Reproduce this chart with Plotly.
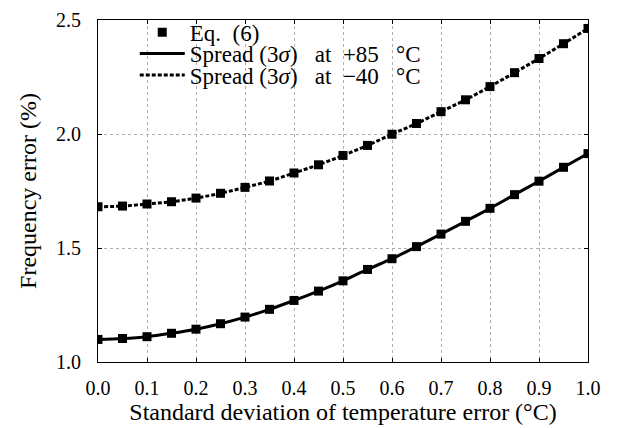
import plotly.graph_objects as go

sigma = [0.0, 0.05, 0.1, 0.15, 0.2, 0.25, 0.3, 0.35, 0.4, 0.45, 0.5,
         0.55, 0.6, 0.65, 0.7, 0.75, 0.8, 0.85, 0.9, 0.95, 1.0]
spread_p85 = [1.099, 1.103, 1.111, 1.126, 1.144, 1.168, 1.197, 1.231, 1.270, 1.311, 1.356,
              1.406, 1.453, 1.506, 1.561, 1.617, 1.674, 1.734, 1.793, 1.854, 1.914]
spread_m40 = [1.681, 1.684, 1.693, 1.703, 1.719, 1.740, 1.766, 1.794, 1.829, 1.865, 1.906,
              1.950, 1.999, 2.046, 2.098, 2.150, 2.208, 2.269, 2.331, 2.396, 2.463]
eq6_p85 = spread_p85
eq6_m40 = spread_m40

x_ticks = [0.0, 0.1, 0.2, 0.3, 0.4, 0.5, 0.6, 0.7, 0.8, 0.9, 1.0]
y_ticks = [1.0, 1.5, 2.0, 2.5]

FONT = "Liberation Serif"
NB = "\u00a0"
name_eq = "Eq." + NB + NB + "(6)"
name_p85 = "Spread" + NB + "(3<i>σ</i>)" + NB * 3 + "at" + NB * 2 + "+85" + NB * 3 + "°C"
name_m40 = "Spread" + NB + "(3<i>σ</i>)" + NB * 3 + "at" + NB * 2 + "−40" + NB * 3 + "°C"

fig = go.Figure()
fig.add_trace(go.Scatter(x=sigma, y=spread_p85, mode="lines", line=dict(color="black", width=3, shape="spline"),
                         name=name_p85, legend="legend2"))
fig.add_trace(go.Scatter(x=sigma, y=spread_m40, mode="lines",
                         line=dict(color="black", width=3, dash="4px,2px", shape="spline"),
                         name=name_m40, legend="legend3"))
fig.add_trace(go.Scatter(x=sigma, y=eq6_p85, mode="markers",
                         marker=dict(symbol="square", size=9, color="black"),
                         name=name_eq, legend="legend"))
fig.add_trace(go.Scatter(x=sigma, y=eq6_m40, mode="markers",
                         marker=dict(symbol="square", size=9, color="black"),
                         name=name_eq, showlegend=False))

axis_common = dict(showline=True, linecolor="black", linewidth=1, mirror="ticks",
                   ticks="inside", ticklen=4, tickcolor="black", automargin=False,
                   showgrid=True, gridcolor="#b0b0b0", griddash="dot", gridwidth=1,
                   zeroline=False, tickfont=dict(family=FONT, size=20, color="black"))

fig.update_xaxes(range=[0, 1], tickvals=x_ticks, ticktext=[f"{v:.1f}" for v in x_ticks],
                 ticklabelstandoff=8,
                 title=dict(text="Standard deviation of temperature error (°C)",
                            font=dict(family=FONT, size=24, color="black"), standoff=4),
                 **axis_common)
fig.update_yaxes(range=[1.0, 2.5], tickvals=y_ticks, ticktext=[f"{v:.1f}" for v in y_ticks],
                 ticklabelstandoff=12,
                 title=dict(text="Frequency error (%)",
                            font=dict(family=FONT, size=24, color="black"), standoff=12),
                 **axis_common)

leg = dict(x=0.075, xanchor="left", yanchor="middle", borderwidth=0,
           bgcolor="rgba(255,255,255,0)",
           font=dict(family=FONT, size=23, color="black"), itemwidth=45)

fig.update_layout(
    width=621, height=428,
    margin=dict(l=98, r=33, t=11, b=66),
    plot_bgcolor="white", paper_bgcolor="white",
    font=dict(family=FONT, color="black"),
    legend=dict(y=0.964, **leg),
    legend2=dict(y=0.902, **leg),
    legend3=dict(y=0.839, **leg),
)

fig.write_html("out.html", config={"displayModeBar": False},
               post_script="document.body.style.margin='0px';")
